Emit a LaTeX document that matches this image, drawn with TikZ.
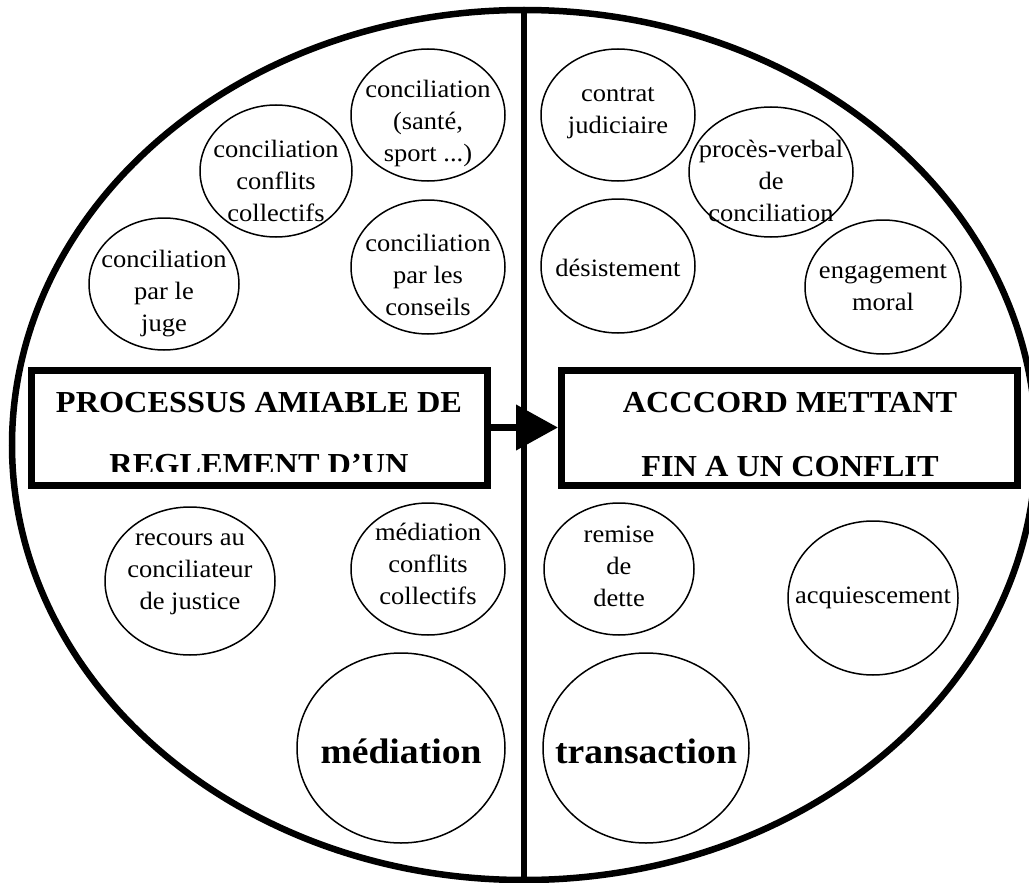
\documentclass[tikz,border=0pt]{standalone}
\usepackage{fontspec}
\setmainfont{Liberation Serif}
\newfontfamily\strfont[FakeStretch=1.06]{Liberation Serif}
\usetikzlibrary{shapes.geometric,arrows.meta}
\begin{document}
\begin{tikzpicture}[x=1pt,y=-1pt,
  bub/.style={draw, ellipse, line width=1.5pt, inner sep=0pt, outer sep=0pt},
  btxt/.style={align=center, inner sep=0pt, font=\strfont\fontsize{25}{32}\selectfont},
  bigtxt/.style={inner sep=0pt, font=\strfont\bfseries\fontsize{35.5}{40}\selectfont},
  ttl/.style={inner sep=0pt, anchor=base, font=\strfont\bfseries\fontsize{30.5}{36}\selectfont},
  boxs/.style={draw, line width=7pt, inner sep=0pt, outer sep=3.5pt}
]
\useasboundingbox (0,0) rectangle (1029,883);
\clip (0,0) rectangle (1029,883);
\fill[white] (0,0) rectangle (1029,883);

% outer ellipse and divider
\node[draw, ellipse, line width=6.5pt, minimum width=1024pt, minimum height=870pt, inner sep=0pt, outer sep=0pt] (big) at (524,445) {};
\draw[line width=6pt] (big.north) -- (big.south);

% left bubbles
\node[bub, minimum width=150pt, minimum height=132pt] (e1) at (164,284) {};
\node[btxt] (t1) at (164,294) {conciliation\\par le\\juge};
\node[bub, minimum width=152pt, minimum height=132pt] (e2) at (276,171) {};
\node[btxt] (t2) at (276,181) {conciliation\\conflits\\collectifs};
\node[bub, minimum width=154pt, minimum height=132pt] (e3) at (428,115) {};
\node[btxt] (t3) at (428,123) {conciliation\\(santé,\\sport ...)};
\node[bub, minimum width=154pt, minimum height=134pt] (e4) at (428,267) {};
\node[btxt] (t4) at (428,275) {conciliation\\par les\\conseils};
\node[bub, minimum width=170pt, minimum height=148pt] (e9) at (190,581) {};
\node[btxt] (t9) at (190,574) {recours au\\conciliateur\\de justice};
\node[bub, minimum width=154pt, minimum height=132pt] (e10) at (428,569) {};
\node[btxt] (t10) at (428,564) {médiation\\conflits\\collectifs};
\node[bub, minimum width=208pt, minimum height=190pt] (e13) at (401,748) {};
\node[bigtxt] (t13) at (401,751) {médiation};

% right bubbles
\node[bub, minimum width=154pt, minimum height=132pt] (e5) at (618,115) {};
\node[btxt] (t5) at (618,113) {contrat\\judiciaire};
\node[bub, minimum width=164pt, minimum height=130pt] (e6) at (771,172) {};
\node[btxt] (t6) at (771,181) {procès-verbal\\de\\conciliation};
\node[bub, minimum width=154pt, minimum height=134pt] (e7) at (618,266) {};
\node[btxt] (t7) at (618,268) {désistement};
\node[bub, minimum width=156pt, minimum height=134pt] (e8) at (883,287) {};
\node[btxt] (t8) at (883,288) {engagement\\moral};
\node[bub, minimum width=150pt, minimum height=132pt] (e11) at (619,569) {};
\node[btxt] (t11) at (619,566) {remise\\de\\dette};
\node[bub, minimum width=170pt, minimum height=154pt] (e12) at (873,598) {};
\node[btxt] (t12) at (873,598) {acquiescement};
\node[bub, minimum width=206pt, minimum height=190pt] (e14) at (646,748) {};
\node[bigtxt] (t14) at (646,751) {transaction};

% title boxes
\node[boxs, minimum width=456pt, minimum height=115pt] (lbox) at (259,427.5) {};
\begin{scope}
\clip (36,375) rectangle (482,471.5);
\node[ttl] (l1) at (259,412) {PROCESSUS AMIABLE DE};
\node[ttl] (l2) at (259,474) {REGLEMENT D’UN};
\end{scope}
\node[boxs, minimum width=456pt, minimum height=115pt] (rbox) at (789.5,427.5) {};
\node[ttl] (r1) at (790,412) {ACCCORD METTANT};
\node[ttl] (r2) at (790,476) {FIN A UN CONFLIT};

% arrow
\draw[line width=7.5pt, -{Triangle[length=42pt,width=44pt]}] (lbox.east) -- (rbox.west);
\end{tikzpicture}
\end{document}
